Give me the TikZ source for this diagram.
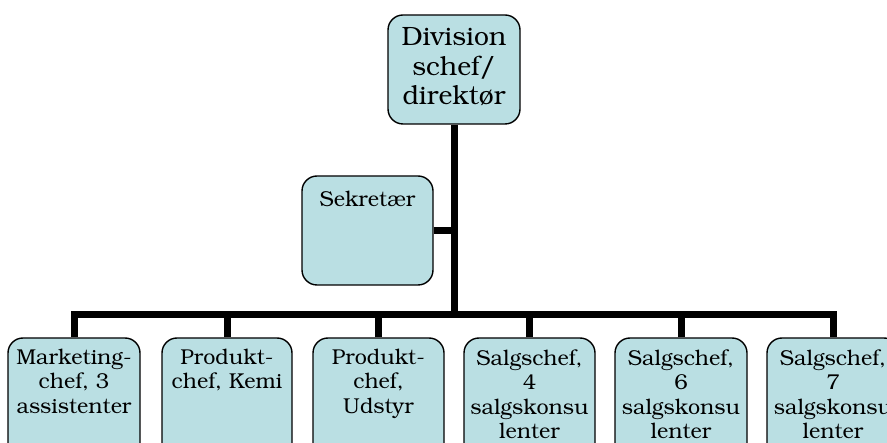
\documentclass[tikz,border=0pt]{standalone}
\usepackage[T1]{fontenc}
\usepackage{bookman}
\definecolor{boxfill}{RGB}{186,223,227}
\tikzset{
  box/.style={draw=black, line width=1.4pt, fill=boxfill, rounded corners=15pt, inner sep=0pt},
  conn/.style={draw=black, line width=7pt},
  bigtxt/.style={anchor=north, inner sep=0pt, align=center, font=\fontsize{26.5}{29.5}\selectfont},
  smltxt/.style={anchor=north, inner sep=0pt, align=center, font=\fontsize{21.5}{24.5}\selectfont}
}
\begin{document}
\begin{tikzpicture}[x=1pt,y=-1pt]
\useasboundingbox (0,0) rectangle (887,443);
\clip (0,0) rectangle (887,443);
% boxes
\node[box, minimum width=132pt, minimum height=109pt] (top) at (454,69.5) {};
\node[box, minimum width=131pt, minimum height=109pt] (sek) at (367.5,230.5) {};
\node[box, minimum width=132pt, minimum height=122pt] (b1) at (74,399) {};
\node[box, minimum width=130pt, minimum height=122pt] (b2) at (227,399) {};
\node[box, minimum width=131pt, minimum height=122pt] (b3) at (378.5,399) {};
\node[box, minimum width=131pt, minimum height=122pt] (b4) at (529.5,399) {};
\node[box, minimum width=132pt, minimum height=122pt] (b5) at (681,399) {};
\node[box, minimum width=132pt, minimum height=122pt] (b6) at (833,399) {};
% texts
\node[bigtxt] (ttop) at (454,27) {Division\\schef/\\direkt\o r};
\node[smltxt] (tsek) at (367.5,191) {Sekret\ae r};
\node[smltxt] (t1) at (74,349) {Marketing-\\chef, 3\\assistenter};
\node[smltxt] (t2) at (227,349) {Produkt-\\chef, Kemi};
\node[smltxt] (t3) at (378.5,349) {Produkt-\\chef,\\Udstyr};
\node[smltxt] (t4) at (529.5,349) {Salgschef,\\4\\salgskonsu\\lenter};
\node[smltxt] (t5) at (681,349) {Salgschef,\\6\\salgskonsu\\lenter};
\node[smltxt] (t6) at (833,349) {Salgschef,\\7\\salgskonsu\\lenter};
% connectors
\coordinate (hub) at (454,315);
\draw[conn] (top.south) -- (hub);
\draw[conn] (sek.east) -- (sek.east -| top.south);
\draw[conn] (b1.north) |- (hub) -| (b6.north);
\draw[conn] (b2.north) -- (b2.north |- hub);
\draw[conn] (b3.north) -- (b3.north |- hub);
\draw[conn] (b4.north) -- (b4.north |- hub);
\draw[conn] (b5.north) -- (b5.north |- hub);
\end{tikzpicture}
\end{document}
